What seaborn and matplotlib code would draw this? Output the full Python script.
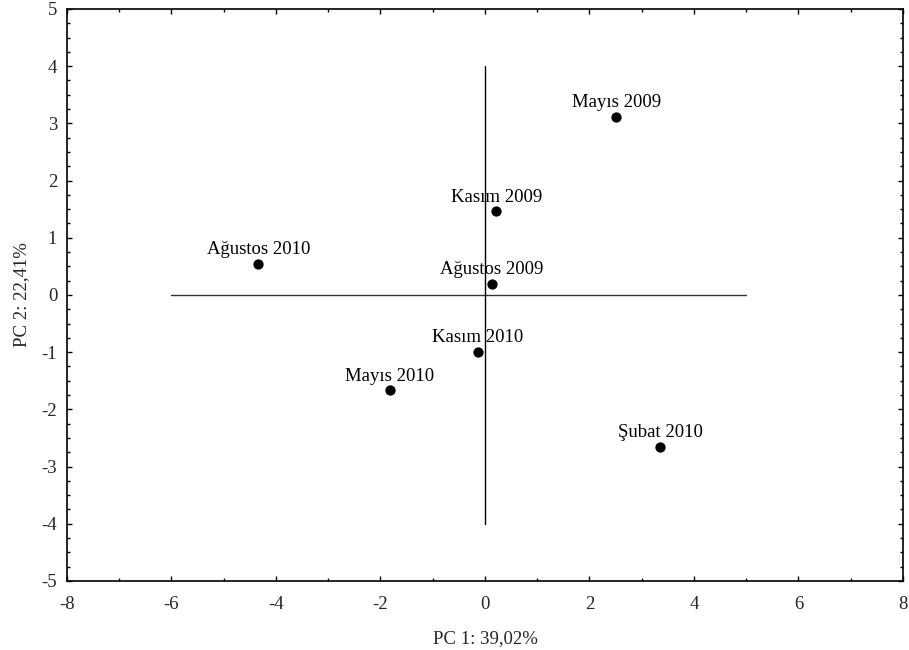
import matplotlib
matplotlib.use("Agg")
import matplotlib.pyplot as plt
from matplotlib.ticker import MultipleLocator
import seaborn as sns
import pandas as pd

labels = ["Mayıs 2009", "Kasım 2009", "Ağustos 2010", "Ağustos 2009",
          "Kasım 2010", "Mayıs 2010", "Şubat 2010"]
pc1 = [2.51, 0.22, -4.34, 0.13, -0.14, -1.82, 3.35]
pc2 = [3.11, 1.46, 0.55, 0.19, -1.00, -1.67, -2.65]

df = pd.DataFrame({"PC1": pc1, "PC2": pc2, "label": labels})

sns.set_style("ticks")
plt.rcParams["font.family"] = ["Liberation Serif", "DejaVu Serif"]
plt.rcParams["axes.unicode_minus"] = False
FS = 13.5

fig = plt.figure(figsize=(9.09, 6.5), dpi=100)
ax = fig.add_axes([0.0737, 0.1062, 0.9197, 0.8800])

# reference cross
ax.plot([-6, 5], [0, 0], color="#333333", lw=1.0, zorder=1)
ax.plot([0, 0], [-4, 4], color="black", lw=1.0, zorder=1)

sns.scatterplot(data=df, x="PC1", y="PC2", ax=ax, color="black",
                s=55, edgecolor="black", linewidth=0, zorder=3, legend=False)

for x, y, t in zip(pc1, pc2, labels):
    ax.annotate(t, (x, y), xytext=(0, 7), textcoords="offset points",
                ha="center", va="baseline", fontsize=FS, color="black")

ax.set_xlim(-8, 8)
ax.set_ylim(-5, 5)
ax.xaxis.set_major_locator(MultipleLocator(2))
ax.xaxis.set_minor_locator(MultipleLocator(1))
ax.yaxis.set_major_locator(MultipleLocator(1))
ax.yaxis.set_minor_locator(MultipleLocator(0.25))

ax.tick_params(which="both", direction="in", top=True, right=True,
               width=1.0, color="black")
ax.tick_params(which="major", length=3.5, labelsize=FS)
ax.tick_params(which="minor", length=2.5)
ax.tick_params(axis="x", which="major", pad=11)
ax.tick_params(axis="y", which="major", pad=7)

for s in ax.spines.values():
    s.set_visible(True)
    s.set_linewidth(1.2)
    s.set_color("black")

ax.set_xlabel("PC 1: 39,02%", fontsize=FS, labelpad=12)
ax.set_ylabel("PC 2: 22,41%", fontsize=FS, labelpad=8)

fig.savefig("out.png", dpi=100)
